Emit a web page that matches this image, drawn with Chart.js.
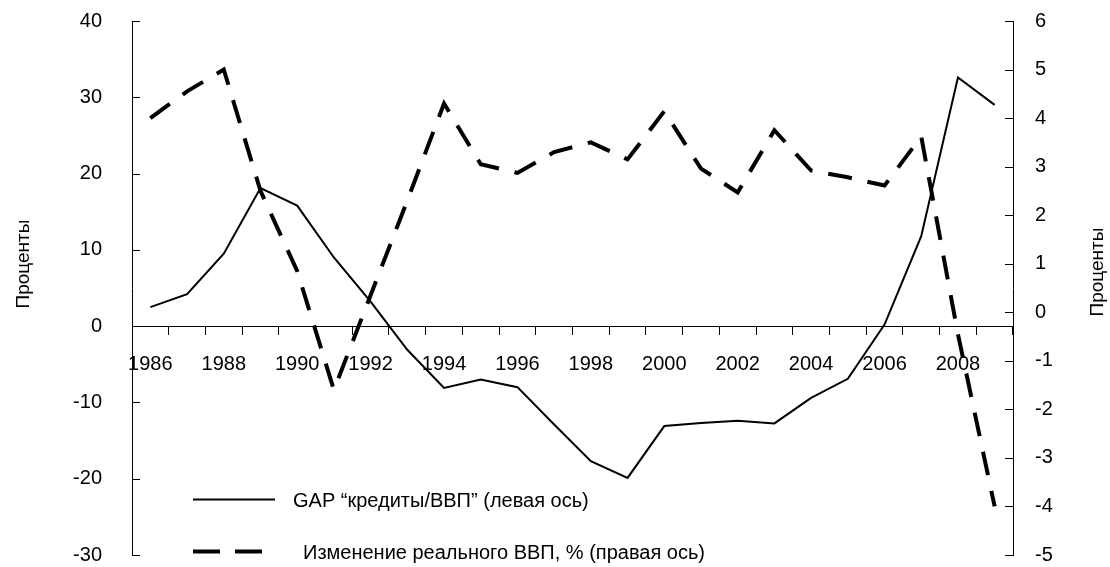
<!DOCTYPE html>
<html>
<head>
<meta charset="utf-8">
<script src="https://cdn.jsdelivr.net/npm/chart.js@4"></script>
<style>
  html, body { margin: 0; padding: 0; background: #fff; }
  #wrap { width: 1110px; height: 567px; }
</style>
</head>
<body>
<div id="wrap"><canvas id="gapChart"></canvas></div>
<script>
// --- данные ---
const YEARS = ['1986', '1987', '1988', '1989', '1990', '1991', '1992', '1993', '1994', '1995', '1996', '1997',
               '1998', '1999', '2000', '2001', '2002', '2003', '2004', '2005', '2006', '2007', '2008', '2009'];

// GAP "кредиты/ВВП", левая ось
const GAP_CREDIT = [2.5, 4.2, 9.5, 18.1, 15.8, 9.0, 3.2, -3.1, -8.1, -7.0, -8.0, -12.9,
                    -17.7, -19.9, -13.1, -12.7, -12.4, -12.75, -9.4, -6.9, 0.2, 11.8, 32.6, 29.0];

// Изменение реального ВВП, %, правая ось
const GDP_GROWTH = [4.0, 4.55, 5.0, 2.5, 0.85, -1.6, 0.35, 2.3, 4.3, 3.05, 2.87, 3.3,
                    3.5, 3.15, 4.14, 2.96, 2.47, 3.75, 2.92, 2.78, 2.61, 3.62, -0.45, -4.0];

const LEFT_TICKS = { min: -30, max: 40, step: 10 };
const RIGHT_TICKS = { min: -5, max: 6, step: 1 };

const LABEL_GAP = 'GAP “кредиты/ВВП” (левая ось)';
const LABEL_GDP = 'Изменение реального ВВП, % (правая ось)';
const AXIS_TITLE = 'Проценты';

const FONT_FAMILY = "'Liberation Sans', Arial, sans-serif";
const FONT_SIZE = 20;

// --- декор: внутренние риски осей, подписи осей, легенда ---
const decorPlugin = {
    id: 'decor',
    afterDraw(chart) {
        const ctx = chart.ctx;
        const area = chart.chartArea;
        const yL = chart.scales.yLeft;
        const yR = chart.scales.yRight;

        ctx.save();
        ctx.strokeStyle = '#000';
        ctx.lineWidth = 1;
        ctx.beginPath();
        yL.ticks.forEach(t => {
            const y = Math.round(yL.getPixelForValue(t.value)) + 0.5;
            ctx.moveTo(area.left, y);
            ctx.lineTo(area.left + 8, y);
        });
        yR.ticks.forEach(t => {
            const y = Math.round(yR.getPixelForValue(t.value)) + 0.5;
            ctx.moveTo(area.right, y);
            ctx.lineTo(area.right - 8, y);
        });
        ctx.stroke();

        // подписи осей
        ctx.fillStyle = '#000';
        ctx.font = `19px ${FONT_FAMILY}`;
        ctx.textAlign = 'center';
        ctx.textBaseline = 'middle';
        [[24, 264], [1098, 272]].forEach(([x, y]) => {
            ctx.save();
            ctx.translate(x, y);
            ctx.rotate(-Math.PI / 2);
            ctx.fillText(AXIS_TITLE, 0, 0);
            ctx.restore();
        });

        // легенда
        const items = [
            { ds: chart.data.datasets[0], lineY: 499.5, textX: 293, textY: 501, dash: [] },
            { ds: chart.data.datasets[1], lineY: 551.5, textX: 303, textY: 553, dash: [27, 15] }
        ];
        ctx.textAlign = 'left';
        ctx.font = `${FONT_SIZE}px ${FONT_FAMILY}`;
        items.forEach(it => {
            ctx.beginPath();
            ctx.setLineDash(it.dash);
            ctx.lineCap = 'butt';
            ctx.lineWidth = it.ds.borderWidth;
            ctx.strokeStyle = it.ds.borderColor;
            ctx.moveTo(193, it.lineY);
            ctx.lineTo(it.dash.length ? 262 : 275, it.lineY);
            ctx.stroke();
            ctx.setLineDash([]);
            ctx.fillText(it.ds.label, it.textX, it.textY);
        });
        ctx.restore();
    }
};

const tickFont = { family: FONT_FAMILY, size: FONT_SIZE, lineHeight: 1 };
const hidden = 'rgba(0,0,0,0)';

new Chart(document.getElementById('gapChart'), {
    type: 'line',
    data: {
        labels: YEARS,
        datasets: [
            {
                label: LABEL_GAP,
                data: GAP_CREDIT,
                yAxisID: 'yLeft',
                borderColor: '#000',
                borderWidth: 2,
                pointRadius: 0,
                tension: 0,
                fill: false
            },
            {
                label: LABEL_GDP,
                data: GDP_GROWTH,
                yAxisID: 'yRight',
                borderColor: '#000',
                borderWidth: 4,
                borderDash: [24, 16],
                borderCapStyle: 'butt',
                pointRadius: 0,
                tension: 0,
                fill: false
            }
        ]
    },
    options: {
        responsive: true,
        maintainAspectRatio: false,
        animation: false,
        events: [],
        layout: { padding: { top: 21, bottom: 12, left: 0, right: 0 } },
        plugins: {
            legend: { display: false },
            tooltip: { enabled: false }
        },
        scales: {
            x: {
                type: 'category',
                position: { yLeft: 0 },
                offset: true,
                grid: {
                    offset: true,
                    drawOnChartArea: false,
                    drawTicks: true,
                    tickLength: 8,
                    color: '#000'
                },
                border: { display: true, color: '#000', width: 1 },
                ticks: {
                    autoSkip: false,
                    maxRotation: 0,
                    minRotation: 0,
                    padding: 20,
                    color: '#000',
                    font: tickFont,
                    callback: function (val, idx) {
                        return idx % 2 === 0 ? this.getLabelForValue(val) : '';
                    }
                }
            },
            yLeft: {
                type: 'linear',
                position: 'left',
                min: LEFT_TICKS.min,
                max: LEFT_TICKS.max,
                afterFit: s => { s.width = 132; },
                grid: { drawOnChartArea: false, drawTicks: true, tickLength: 30, tickColor: hidden },
                border: { display: true, color: '#000', width: 1 },
                ticks: { stepSize: LEFT_TICKS.step, padding: 0, color: '#000', font: tickFont }
            },
            yRight: {
                type: 'linear',
                position: 'right',
                min: RIGHT_TICKS.min,
                max: RIGHT_TICKS.max,
                afterFit: s => { s.width = 97; },
                grid: { drawOnChartArea: false, drawTicks: true, tickLength: 22, tickColor: hidden },
                border: { display: true, color: '#000', width: 1 },
                ticks: { stepSize: RIGHT_TICKS.step, padding: 0, color: '#000', font: tickFont }
            }
        }
    },
    plugins: [decorPlugin]
});
</script>
</body>
</html>
